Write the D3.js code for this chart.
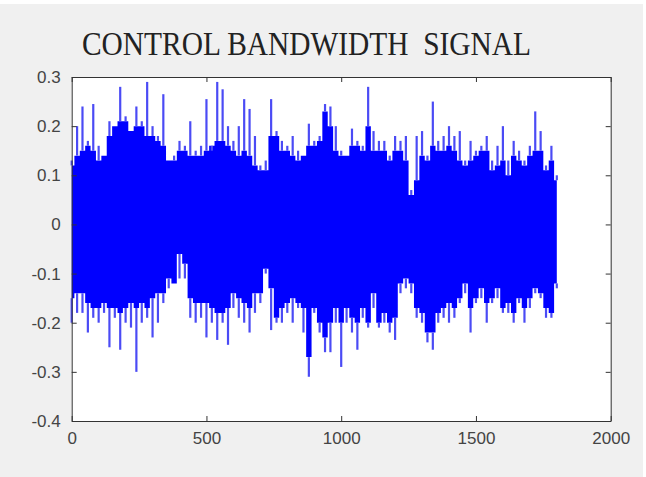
<!DOCTYPE html>
<html>
<head>
<meta charset="utf-8">
<script src="https://cdn.jsdelivr.net/npm/d3@7"></script>
<style>
  body { margin: 0; background: #ffffff; }
  svg { display: block; }
</style>
</head>
<body>
<svg width="646" height="477"></svg>
<script>
// envelope of the signal, one value per 20 samples (0 .. 1800)
var sampleIdx = d3.range(0, 1801, 20);

var spikeHi = [0.13, 0.20, 0.24, 0.17, 0.245, 0.16, 0.14, 0.21, 0.20, 0.28, 0.22, 0.19, 0.24, 0.21, 0.29, 0.20, 0.18, 0.265,
  0.13, 0.14, 0.17, 0.16, 0.21, 0.15, 0.16, 0.255, 0.15, 0.29, 0.275, 0.20, 0.17, 0.20, 0.255, 0.235, 0.18, 0.12,
  0.13, 0.255, 0.19, 0.17, 0.16, 0.18, 0.15, 0.14, 0.205, 0.17, 0.18, 0.245, 0.24, 0.20, 0.15, 0.14, 0.195, 0.17,
  0.16, 0.28, 0.19, 0.17, 0.17, 0.14, 0.18, 0.17, 0.18, 0.07, 0.18, 0.19, 0.14, 0.25, 0.17, 0.18, 0.20, 0.18,
  0.19, 0.13, 0.17, 0.15, 0.16, 0.18, 0.13, 0.16, 0.20, 0.13, 0.17, 0.15, 0.13, 0.16, 0.23, 0.19, 0.12, 0.16, 0.10];

var coreHi = [0.12, 0.14, 0.15, 0.16, 0.15, 0.13, 0.14, 0.18, 0.20, 0.21, 0.21, 0.19, 0.20, 0.20, 0.18, 0.18, 0.17, 0.16,
  0.13, 0.13, 0.15, 0.15, 0.14, 0.14, 0.14, 0.15, 0.16, 0.17, 0.17, 0.16, 0.15, 0.14, 0.15, 0.14, 0.12, 0.11,
  0.11, 0.18, 0.18, 0.15, 0.15, 0.14, 0.13, 0.14, 0.16, 0.16, 0.17, 0.23, 0.20, 0.15, 0.14, 0.14, 0.16, 0.16,
  0.15, 0.20, 0.15, 0.15, 0.15, 0.13, 0.15, 0.15, 0.13, 0.06, 0.09, 0.14, 0.13, 0.16, 0.15, 0.15, 0.16, 0.15,
  0.13, 0.12, 0.13, 0.14, 0.15, 0.15, 0.11, 0.12, 0.13, 0.10, 0.14, 0.13, 0.12, 0.14, 0.15, 0.15, 0.11, 0.13, 0.09];

var coreLo = [-0.15, -0.14, -0.14, -0.16, -0.17, -0.17, -0.16, -0.17, -0.17, -0.18, -0.17, -0.16, -0.17, -0.16, -0.17, -0.15, -0.14, -0.14,
  -0.11, -0.12, -0.06, -0.08, -0.15, -0.16, -0.16, -0.16, -0.17, -0.18, -0.18, -0.17, -0.14, -0.15, -0.16, -0.17, -0.14, -0.14,
  -0.09, -0.13, -0.19, -0.17, -0.16, -0.15, -0.16, -0.17, -0.27, -0.17, -0.20, -0.23, -0.20, -0.17, -0.20, -0.17, -0.19, -0.20,
  -0.17, -0.20, -0.14, -0.20, -0.18, -0.20, -0.19, -0.12, -0.11, -0.12, -0.17, -0.18, -0.22, -0.22, -0.18, -0.17, -0.16, -0.17,
  -0.15, -0.12, -0.17, -0.15, -0.13, -0.16, -0.15, -0.13, -0.17, -0.16, -0.18, -0.15, -0.17, -0.15, -0.13, -0.14, -0.17, -0.18, -0.12];

var spikeLo = [-0.20, -0.18, -0.18, -0.22, -0.19, -0.20, -0.18, -0.25, -0.19, -0.255, -0.20, -0.21, -0.30, -0.20, -0.19, -0.23, -0.20, -0.16,
  -0.13, -0.12, -0.11, -0.11, -0.19, -0.20, -0.19, -0.23, -0.20, -0.235, -0.20, -0.245, -0.17, -0.19, -0.20, -0.22, -0.18, -0.16,
  -0.10, -0.215, -0.20, -0.20, -0.18, -0.20, -0.17, -0.22, -0.31, -0.18, -0.22, -0.26, -0.26, -0.20, -0.29, -0.20, -0.22, -0.255,
  -0.19, -0.21, -0.17, -0.21, -0.20, -0.22, -0.235, -0.14, -0.13, -0.14, -0.19, -0.20, -0.24, -0.255, -0.20, -0.19, -0.20, -0.19,
  -0.16, -0.14, -0.22, -0.16, -0.15, -0.20, -0.16, -0.15, -0.18, -0.18, -0.20, -0.16, -0.20, -0.17, -0.14, -0.15, -0.19, -0.19, -0.13];

var xTicks = [0, 500, 1000, 1500, 2000];
var yTicks = [-0.4, -0.3, -0.2, -0.1, 0, 0.1, 0.2, 0.3];

var svg = d3.select("svg"),
    width = +svg.attr("width"),
    height = +svg.attr("height");

var plotLeft = 71.7, plotRight = 610.7, plotTop = 77, plotBottom = 421;

var x = d3.scaleLinear().domain([0, 2000]).range([plotLeft, plotRight]);
var y = d3.scaleLinear().domain([-0.4, 0.3]).range([plotBottom, plotTop]);

// matlab style labels use a plain hyphen as minus sign
var fmt = d3.formatLocale({ decimal: ".", thousands: "", grouping: [3], currency: ["", ""], minus: "-" }).format(".1f");

// grey figure background
svg.append("rect")
    .attr("x", 0).attr("y", 4)
    .attr("width", 643).attr("height", height - 4)
    .attr("fill", "#f0f0f0");

svg.append("rect")
    .attr("x", plotLeft).attr("y", plotTop)
    .attr("width", plotRight - plotLeft).attr("height", plotBottom - plotTop)
    .attr("fill", "#fff");

svg.append("text")
    .attr("x", 82).attr("y", 55)
    .attr("textLength", 449)
    .attr("lengthAdjust", "spacingAndGlyphs")
    .style("white-space", "pre")
    .style("font-family", "'Liberation Serif', 'Times New Roman', serif")
    .style("font-size", "33px")
    .style("fill", "#222")
    .text("CONTROL BANDWIDTH  SIGNAL");

var data = sampleIdx.map(function(s, i) {
    return { s: s, hi: coreHi[i], lo: coreLo[i], sh: spikeHi[i], sl: spikeLo[i] };
});

// solid body of the signal
var area = d3.area()
    .curve(d3.curveStep)
    .x(function(d) { return x(d.s); })
    .y0(function(d) { return y(d.lo); })
    .y1(function(d) { return y(d.hi); });

svg.append("path")
    .datum(data)
    .attr("d", area)
    .attr("fill", "#0000ff");

// single-sample spikes sticking out of the body
var spikes = svg.append("g")
    .attr("stroke", "#4b4bf5")
    .attr("stroke-width", 2.2);

spikes.selectAll("line.hi")
    .data(data)
    .enter().append("line")
        .attr("class", "hi")
        .attr("x1", function(d) { return x(d.s); })
        .attr("x2", function(d) { return x(d.s); })
        .attr("y1", function(d) { return y(d.hi); })
        .attr("y2", function(d) { return y(d.sh); });

spikes.selectAll("line.lo")
    .data(data)
    .enter().append("line")
        .attr("class", "lo")
        .attr("x1", function(d) { return x(d.s); })
        .attr("x2", function(d) { return x(d.s); })
        .attr("y1", function(d) { return y(d.lo); })
        .attr("y2", function(d) { return y(d.sl); });

// axes, ticks pointing inward on all four sides
function styleAxis(g) {
    g.select(".domain").attr("stroke", "#333");
    g.selectAll(".tick line").attr("stroke", "#333");
    g.selectAll(".tick text")
        .style("font-family", "'Liberation Sans', Arial, sans-serif")
        .style("font-size", "17px")
        .attr("fill", "#444");
}

svg.append("g")
    .attr("transform", "translate(0," + plotBottom + ")")
    .call(d3.axisBottom(x).tickValues(xTicks).tickSizeInner(-5).tickSizeOuter(0).tickPadding(11).tickFormat(d3.format("d")))
    .call(styleAxis);

svg.append("g")
    .attr("transform", "translate(0," + plotTop + ")")
    .call(d3.axisTop(x).tickValues(xTicks).tickSizeInner(-5).tickSizeOuter(0).tickFormat(""))
    .call(styleAxis);

svg.append("g")
    .attr("transform", "translate(" + plotLeft + ",0)")
    .call(d3.axisLeft(y).tickValues(yTicks).tickSizeInner(-5).tickSizeOuter(0).tickPadding(11)
        .tickFormat(function(d) { return d === 0 ? "0" : fmt(d); }))
    .call(styleAxis);

svg.append("g")
    .attr("transform", "translate(" + plotRight + ",0)")
    .call(d3.axisRight(y).tickValues(yTicks).tickSizeInner(-5).tickSizeOuter(0).tickFormat(""))
    .call(styleAxis);
</script>
</body>
</html>
